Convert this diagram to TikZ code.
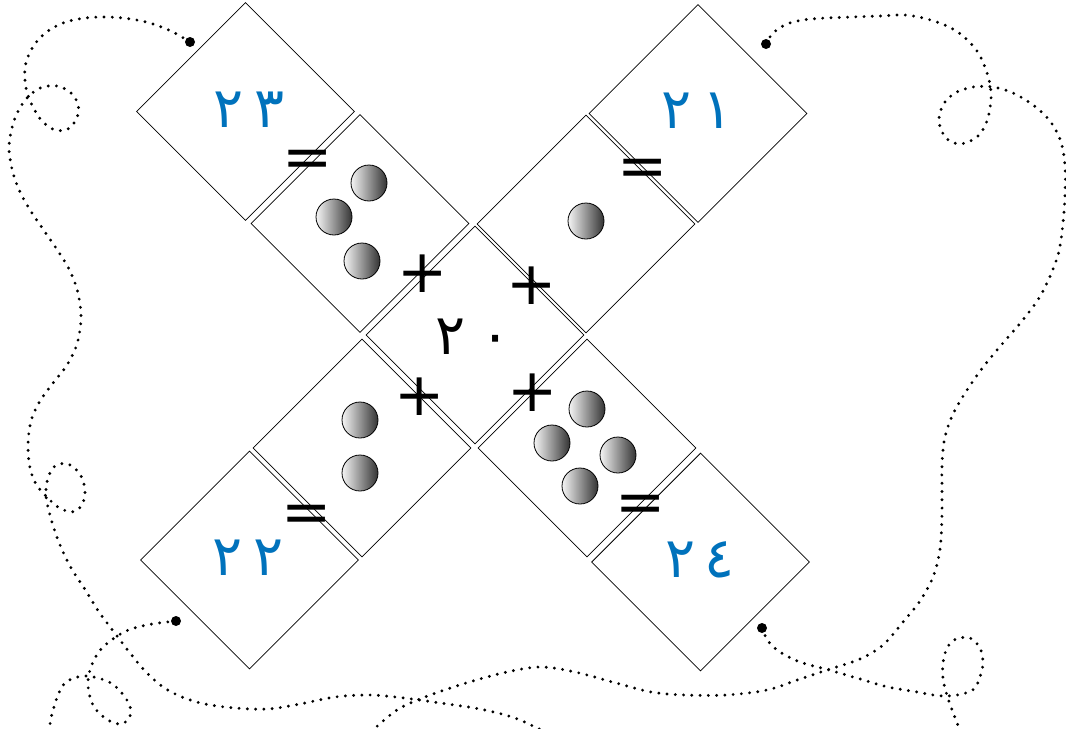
\documentclass[tikz,border=0pt]{standalone}
\usepackage{fontspec}
\usetikzlibrary{shapes.geometric}
\newfontfamily\arabicfont[Script=Arabic]{DejaVu Sans}
\newfontfamily\opfont{DejaVu Sans}
\definecolor{numblue}{RGB}{0,114,188}
\begin{document}
\begin{tikzpicture}[x=0.75pt,y=-0.75pt,
  tile/.style={diamond, draw=black, line width=0.6pt, fill=white, minimum width=163.5pt, minimum height=163.5pt, inner sep=0pt, aspect=1},
  ball/.style={circle, draw=black, line width=0.6pt, minimum size=27pt, inner sep=0pt, left color=black!4, right color=black!80},
  opsign/.style={font=\opfont\fontsize{45}{45}\selectfont, inner sep=0pt},
  numtext/.style={font=\arabicfont\fontsize{42}{42}\selectfont, text=numblue, inner sep=0pt},
  centertext/.style={font=\arabicfont\fontsize{42}{42}\selectfont, text=black, inner sep=0pt},
  enddot/.style={circle, fill=black, minimum size=7.5pt, inner sep=0pt},
  dotline/.style={line width=2.4pt, line cap=round, dash pattern=on 0pt off 6.2pt}
]
\useasboundingbox (0,0) rectangle (1066,728);
% tiles
\node[tile] (c)  at (475,335) {};
\node[tile] (tl) at (360,223.5) {};
\node[tile] (tr) at (586,224) {};
\node[tile] (bl) at (362,448) {};
\node[tile] (br) at (587,448) {};
\node[tile] (ntl) at (245.5,111.5) {};
\node[tile] (ntr) at (698,113.5) {};
\node[tile] (nbl) at (249.5,560) {};
\node[tile] (nbr) at (700.5,562) {};
% balls
\node[ball] (b1) at (369,183) {};
\node[ball] (b2) at (334,217) {};
\node[ball] (b3) at (362,261) {};
\node[ball] (b4) at (586,221) {};
\node[ball] (b5) at (360,420) {};
\node[ball] (b6) at (360,473) {};
\node[ball] (b7) at (587,409) {};
\node[ball] (b8) at (552,443) {};
\node[ball] (b9) at (618,455) {};
\node[ball] (b10) at (580,486) {};
% numbers
\node[numtext] (t23) at (249,110) {٢\hspace{8pt}٣};
\node[numtext] (t21) at (697,111) {٢\hspace{8pt}١};
\node[numtext] (t22) at (248,558) {٢\hspace{8pt}٢};
\node[numtext] (t24) at (700,560) {٢\hspace{7pt}٤};
\node[centertext] (t20) at (473,337) {٢\hspace{11pt}٠};
% signs
\node[opsign] (p1) at (423,274) {+};
\node[opsign] (p2) at (532,286) {+};
\node[opsign] (p3) at (420,397) {+};
\node[opsign] (p4) at (533,393) {+};
\node[opsign] (e1) at (308,164) {=};
\node[opsign] (e2) at (643,173) {=};
\node[opsign] (e3) at (307,519) {=};
\node[opsign] (e4) at (641,509) {=};
% end dots
\node[enddot] (d1) at (190,42) {};
\node[enddot] (d2) at (766,44) {};
\node[enddot] (d3) at (176,621) {};
\node[enddot] (d4) at (762,628) {};
% dotted curves
\draw[dotline] plot[smooth, tension=0.55] coordinates {(d1.center) (173,32) (153,24) (131,19) (108,17) (85,18) (63,23) (44,34) (31,50) (25,68) (26,88) (32,105) (42,121) (55,130) (68,129) (77,118) (78,104) (70,92) (57,86) (43,87) (31,94) (21,106) (13,124) (9,148) (13,173) (21,194) (32,213) (45,232) (58,251) (70,271) (78,293) (81,318) (77,344) (67,365) (53,383) (40,401) (31,421) (28,445) (30,468) (36,484) (46,496) (58,507) (72,512) (82,505) (85,490) (80,474) (68,464) (55,466) (48,478) (46,495) (50,515) (58,540) (70,566) (86,591) (99,612) (114,632) (130,653) (145,671) (163,687) (182,697) (205,704) (235,708) (268,709) (300,704) (335,697) (370,695) (404,698) (440,703) (480,709) (515,718) (545,732)};
\draw[dotline] plot[smooth, tension=0.55] coordinates {(d3.center) (159,623) (142,626) (126,631) (113,639) (102,648) (95,658) (90,670) (88,682) (89,693) (92,703) (98,712) (108,720) (119,724) (127,721) (131,712) (128,702) (121,692) (111,683) (98,678) (86,676) (74,678) (64,684) (58,695) (54,707) (51,718) (49,732)};
\draw[dotline] plot[smooth, tension=0.55] coordinates {(d2.center) (773,33) (787,24) (803,20) (825,18) (852,17) (880,16) (905,15) (927,19) (947,26) (963,36) (977,51) (985,67) (990,84) (991,100) (987,121) (977,137) (960,144) (946,138) (939,122) (943,105) (955,93) (973,87) (993,87) (1013,93) (1033,105) (1050,121) (1061,142) (1065,167) (1065,195) (1063,223) (1059,251) (1051,274) (1039,298) (1022,321) (1003,343) (984,366) (967,390) (953,414) (945,437) (942,465) (942,512) (940,549) (933,577) (920,601) (903,622) (883,645) (860,659) (830,669) (800,679) (767,690) (726,695) (685,695) (651,692) (616,683) (575,672) (541,667) (507,672) (466,683) (425,697) (397,710) (373,730)};
\draw[dotline] plot[smooth, tension=0.55] coordinates {(d4.center) (768,641) (780,652) (800,662) (829,670) (860,679) (888,687) (917,692) (933,695) (947,696) (962,694) (974,689) (980,677) (983,663) (980,648) (970,638) (956,639) (947,648) (943,663) (943,678) (946,692) (951,707) (956,720) (960,731)};
\end{tikzpicture}
\end{document}
